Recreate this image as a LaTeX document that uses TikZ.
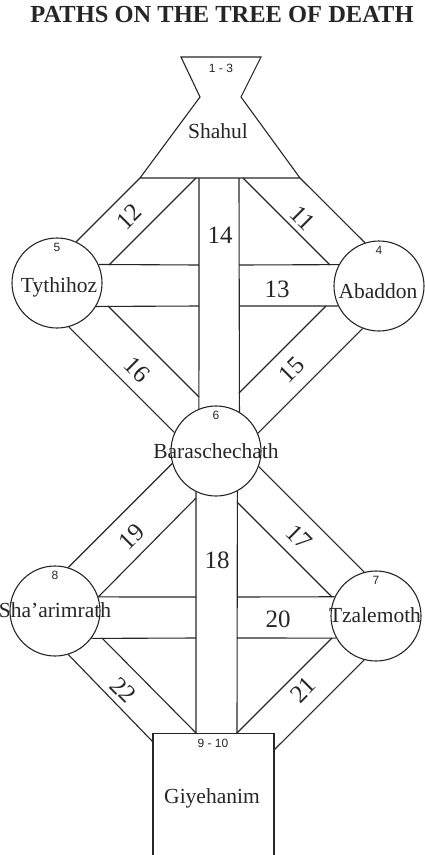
\documentclass[tikz,border=0pt]{standalone}
\usepackage{fontspec}
\setmainfont{Liberation Serif}
\setsansfont{Liberation Sans}

\tikzset{
  sefira/.style={draw, circle, minimum size=90pt, inner sep=0pt},
  pitbox/.style={draw, rectangle, minimum width=121pt, minimum height=140pt, inner sep=0pt, anchor=north},
  sefname/.style={font=\fontsize{21.5}{24}\selectfont, inner sep=0pt, anchor=base},
  sefno/.style={font=\sffamily\fontsize{12}{13}\selectfont, inner sep=0pt},
  pathno/.style={font=\fontsize{25}{28}\selectfont, inner sep=0pt},
  heading/.style={font=\bfseries\fontsize{24.5}{28}\selectfont, inner sep=0pt},
}

\begin{document}
\begin{tikzpicture}[x=1pt, y=-1pt, line width=1.1pt, color=black!85]
  \useasboundingbox (0,0) rectangle (425,855);
  \clip (0,0) rectangle (425,855);

  \coordinate (shA) at (181,57);
  \coordinate (shB) at (261,57);
  \coordinate (shC) at (241,97);
  \coordinate (shD) at (300,178);
  \coordinate (shE) at (140,178);
  \coordinate (shF) at (200,97);

  \coordinate (c12a) at (196,178);
  \coordinate (c12b) at (109,265);
  \coordinate (c11a) at (243,178);
  \coordinate (c11b) at (330,265);
  \coordinate (c14a) at (199,178);
  \coordinate (c14b) at (239,178);
  \coordinate (c13a) at (199,265);
  \coordinate (c13b) at (199,306);
  \coordinate (c13c) at (239,265);
  \coordinate (c13d) at (239,306);
  \coordinate (c16a) at (108,306);
  \coordinate (c16b) at (199,397);
  \coordinate (c15a) at (326,306);
  \coordinate (c15b) at (239,393);
  \coordinate (c19a) at (196,498);
  \coordinate (c17a) at (237,502);
  \coordinate (c17b) at (332,597);
  \coordinate (c20a) at (196,597);
  \coordinate (c20b) at (196,638);
  \coordinate (c20c) at (237,597);
  \coordinate (c20d) at (237,638);
  \coordinate (c18a) at (196,733);
  \coordinate (c18b) at (237,733);
  \coordinate (c22a) at (153,742);
  \coordinate (c22b) at (102,638);
  \coordinate (c21a) at (274,750);
  \coordinate (c21b) at (332,638);

  \node[sefira] (tythihoz)  at (57,283)  {};
  \node[sefira] (abaddon)   at (379,286) {};
  \node[sefira] (barasch)   at (216,451) {};
  \node[sefira] (shaar)     at (55,611)  {};
  \node[sefira] (tzalemoth) at (376,616) {};
  \node[pitbox] (giyehanim) at (213.5,733) {};

  \draw (shA) -- (shB) -- (shC) -- (shD) -- (shE) -- (shF) -- cycle;

  \draw (shE) -- (tythihoz.65) (c12a) -- (c12b);
  \draw (shD) -- (abaddon.108) (c11a) -- (c11b);
  \draw (c14a) -- (barasch.112) (c14b) -- (barasch.59);
  \draw (tythihoz.24) -- (c13a) (tythihoz.-31) -- (c13b);
  \draw (c13c) -- (abaddon.152) (c13d) -- (abaddon.206);
  \draw (tythihoz.-75) -- (barasch.156) (c16a) -- (c16b);
  \draw (abaddon.249) -- (barasch.23) (c15a) -- (c15b);

  \draw (barasch.196) -- (shaar.73) (c19a) -- (shaar.18);
  \draw (barasch.-20) -- (tzalemoth.105) (c17a) -- (c17b);
  \draw (barasch.244) -- (c18a) (barasch.298) -- (c18b);
  \draw (shaar.18) -- (c20a) (shaar.-37) -- (c20b);
  \draw (c20c) -- (tzalemoth.155) (c20d) -- (tzalemoth.209);
  \draw (shaar.-73) -- (c22a) (c22b) -- (c18a);
  \draw (tzalemoth.255) -- (c21a) (c21b) -- (c18b);

  \node[heading] (title) at (222,15) {PATHS ON THE TREE OF DEATH};

  \node[sefname] (shahulname) at (218,138) {Shahul};
  \node[sefname] (tythname)   at (59,292)  {Tythihoz};
  \node[sefname] (abadname)   at (378,298) {Abaddon};
  \node[sefname] (baraname)   at (216,458) {Baraschechath};
  \node[sefname] (shaarname)  at (55,617)  {Sha’arimrath};
  \node[sefname] (tzalname)   at (375,622) {Tzalemoth};
  \node[sefname] (giyename)   at (212,803) {Giyehanim};

  \node[sefno] (n13) at (221,68) {1 - 3};
  \node[sefno] (n5)  at ([yshift=-10pt]tythihoz.north)  {5};
  \node[sefno] (n4)  at ([yshift=-10pt]abaddon.north)   {4};
  \node[sefno] (n6)  at ([yshift=-10pt]barasch.north)   {6};
  \node[sefno] (n8)  at ([yshift=-10pt]shaar.north)     {8};
  \node[sefno] (n7)  at ([yshift=-10pt]tzalemoth.north) {7};
  \node[sefno] (n910) at (213,743) {9 - 10};

  \node[pathno, rotate=-45] (p11) at (303,218) {11};
  \node[pathno, rotate=45]  (p12) at (129,217) {12};
  \node[pathno]             (p13) at (277,289) {13};
  \node[pathno]             (p14) at (220,235) {14};
  \node[pathno, rotate=45]  (p15) at (292,370) {15};
  \node[pathno, rotate=-45] (p16) at (137,370) {16};
  \node[pathno, rotate=-45] (p17) at (299,537) {17};
  \node[pathno]             (p18) at (217,560) {18};
  \node[pathno, rotate=45]  (p19) at (132,537) {19};
  \node[pathno]             (p20) at (278,619) {20};
  \node[pathno, rotate=45]  (p21) at (303,690) {21};
  \node[pathno, rotate=-45] (p22) at (123,690) {22};
\end{tikzpicture}
\end{document}
